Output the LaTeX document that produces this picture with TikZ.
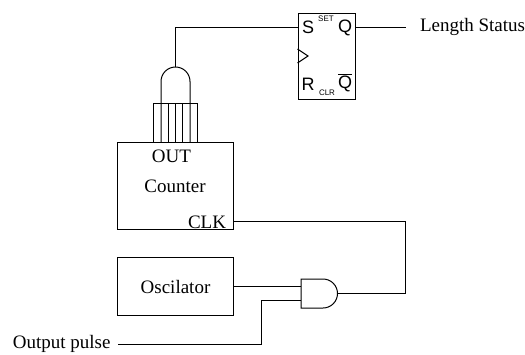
\documentclass[tikz,border=0pt]{standalone}
\usepackage{fontspec}
\setmainfont{Liberation Serif}
\setsansfont{Liberation Sans}

\begin{document}
\begin{tikzpicture}[x=1pt, y=-1pt, line width=1pt]
        \tikzstyle{block}=[draw, rectangle, inner sep=0pt, anchor=north west, font=\fontsize{19}{21}\selectfont]
        \tikzstyle{label}=[inner sep=0pt, font=\fontsize{19}{21}\selectfont]
        \tikzstyle{pin}=[inner sep=0pt, font=\sffamily\fontsize{18}{20}\selectfont]
        \tikzstyle{tiny}=[inner sep=0pt, font=\sffamily\fontsize{8}{9}\selectfont]

        \useasboundingbox (0,0) rectangle (525,354);

        % Blocks
        \node[block, minimum width=116pt, minimum height=87pt] (counter) at (117,142) {};
        \node[block, minimum width=116pt, minimum height=58pt] (osc) at (117,257) {Oscilator};
        \node[block, minimum width=57.5pt, minimum height=86pt] (ff) at (297.5,13) {};

        % Counter texts
        \node[label] (out) at (171.5,156) {OUT};
        \node[label] (cnt) at (175,186) {Counter};
        \node[label] (clk) at (207,222) {CLK};

        % Flip flop texts
        \node[pin] (s) at (308,27) {S};
        \node[pin] (r) at (308,84) {R};
        \node[pin] (q) at (345,28) {Q};
        \node[pin] (qbar) at (345,83) {$\overline{\mbox{Q}}$};
        \node[tiny] (set) at (326,19) {SET};
        \node[tiny] (clr) at (327,92.5) {CLR};

        % Free texts
        \node[label, anchor=west] (status) at (419.5,27) {Length Status};
        \node[label, anchor=east] (pulse) at (111,344) {Output pulse};

        % Pins
        \coordinate (ffS) at (297.5,27);
        \coordinate (ffQ) at (355,27);
        \coordinate (statusend) at (406,27);
        \coordinate (clkpin) at (233,221);
        \coordinate (oscpin) at (233,286);
        \coordinate (topgate) at (175.5,67);
        \coordinate (andA) at (301,286);
        \coordinate (andB) at (301,300.5);
        \coordinate (andout) at (337.5,293.5);
        \coordinate (clkbend) at (405.5,293.5);
        \coordinate (pulsebend) at (261.5,344);
        \coordinate (pulseend) at (118,344);

        % Clock triangle of the flip flop
        \draw (297.5,49) -- (308,56) -- (297.5,63);

        % Upper gate, pins run down to the counter
        \draw (153.5,142) -- (153.5,103) -- (197,103) -- (197,142);
        \foreach \x in {168,175.5,182.5} {
            \draw (\x,103) -- (\x,142);
        }
        \draw (161,142) -- (161,81.5) arc (180:360:14.5) -- (190,142);

        % Lower gate
        \draw (301,279) -- (323,279) arc (-90:90:14.5) -- (301,308) -- cycle;

        % Connectors
        \draw (topgate) |- (ffS);
        \draw (ffQ) -- (statusend);
        \draw (clkpin) -| (clkbend) -- (andout);
        \draw (oscpin) -- (andA);
        \draw (andB) -| (pulsebend) -- (pulseend);
    \end{tikzpicture}
\end{document}
